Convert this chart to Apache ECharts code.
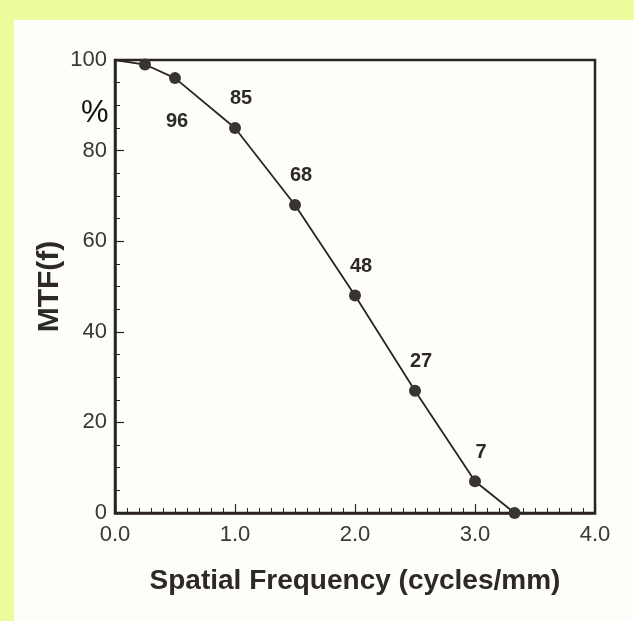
<!DOCTYPE html>
<html>
<head>
<meta charset="utf-8">
<script src="https://cdn.jsdelivr.net/npm/echarts@6/dist/echarts.min.js"></script>
<style>
  html, body { margin: 0; padding: 0; background: #ebfc9c; }
  #chart { width: 634px; height: 621px; }
</style>
</head>
<body>
<div id="chart"></div>
<script>
// Modulation transfer function vs spatial frequency
const frequency = [0.0, 0.25, 0.5, 1.0, 1.5, 2.0, 2.5, 3.0, 3.33];
const mtf = [100, 99, 96, 85, 68, 48, 27, 7, 0];
// Points whose value is printed next to them, and where the number sits
const labelled = { 2: 'below', 3: 'above', 4: 'above', 5: 'above', 6: 'above', 7: 'above' };
const xTicks = ['0.0', '1.0', '2.0', '3.0', '4.0'];

const ink = '#2b2522';
const labelFont = '"Liberation Sans", Arial, sans-serif';

const seriesData = frequency.map((f, i) => {
  const item = { value: [f, mtf[i]] };
  if (i === 0) item.symbolSize = 0;
  const pos = labelled[i];
  if (pos) {
    item.label = {
      show: true,
      formatter: String(mtf[i]),
      position: pos === 'above' ? 'top' : 'bottom',
      offset: pos === 'above' ? [6, -8] : [2, 22]
    };
  }
  return item;
});

const chart = echarts.init(document.getElementById('chart'));
chart.setOption({
  backgroundColor: '#ebfc9c',
  animation: false,
  graphic: [
    { type: 'rect', z: -10, shape: { x: 14, y: 20, width: 620, height: 601 }, style: { fill: '#fdfdfa' } },
    { type: 'text', left: 81, top: 98, style: { text: '%', font: '31px "Liberation Sans", Arial, sans-serif', fill: '#111' } }
  ],
  grid: {
    left: 115, right: 39, top: 60, bottom: 108,
    show: true, borderColor: ink, borderWidth: 2.5
  },
  xAxis: {
    type: 'value', min: 0, max: 4, interval: 1,
    name: 'Spatial Frequency (cycles/mm)',
    nameLocation: 'middle', nameGap: 54,
    nameTextStyle: { fontFamily: labelFont, fontWeight: 'bold', fontSize: 28, color: '#2e2926' },
    axisLine: { lineStyle: { color: ink, width: 2.5 } },
    axisTick: { inside: true, length: 9, lineStyle: { color: ink, width: 1.2 } },
    minorTick: { show: true, splitNumber: 10, length: 5, lineStyle: { color: ink, width: 1 } },
    splitLine: { show: false },
    axisLabel: {
      formatter: v => xTicks[Math.round(v)],
      fontFamily: labelFont, fontSize: 22, color: '#3a3735', margin: 11
    }
  },
  yAxis: {
    type: 'value', min: 0, max: 100, interval: 20,
    name: 'MTF(f)',
    nameLocation: 'middle', nameGap: 50,
    nameMoveOverlap: false,
    nameTextStyle: { fontFamily: labelFont, fontWeight: 'bold', fontSize: 30, color: '#2e2926' },
    axisLine: { lineStyle: { color: ink, width: 2.5 } },
    axisTick: { inside: true, length: 9, lineStyle: { color: ink, width: 1.2 } },
    minorTick: { show: true, splitNumber: 4, length: 5, lineStyle: { color: ink, width: 1 } },
    splitLine: { show: false },
    axisLabel: { fontFamily: labelFont, fontSize: 22, color: '#3a3735', margin: 8 }
  },
  series: [{
    type: 'line',
    data: seriesData,
    symbol: 'circle',
    symbolSize: 12,
    lineStyle: { color: ink, width: 1.8 },
    itemStyle: { color: '#3a3431' },
    label: { fontFamily: labelFont, fontWeight: 'bold', fontSize: 20, color: '#2e2926' }
  }]
});
</script>
</body>
</html>
